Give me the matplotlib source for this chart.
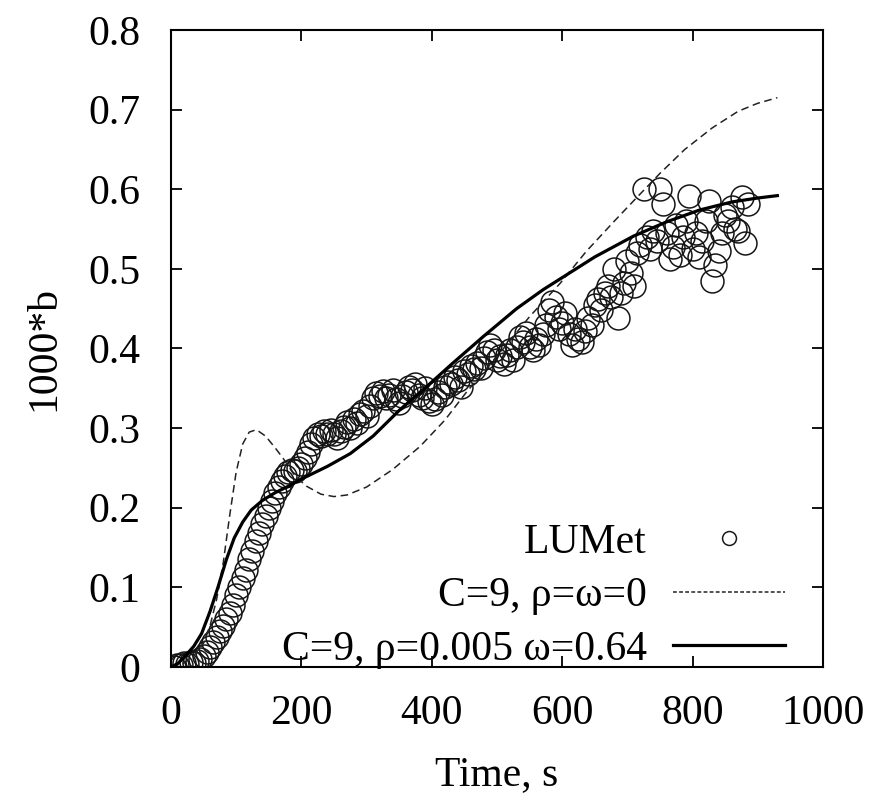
import matplotlib
matplotlib.use("Agg")
import matplotlib.pyplot as plt
from matplotlib.lines import Line2D

plt.rcParams["font.family"] = ["Liberation Serif", "DejaVu Serif"]

# measured data (LUMet)
t_meas = [
    5, 10, 15, 20, 25, 30, 35, 40, 45, 50, 55, 60, 65, 70, 75, 80, 85, 90, 95, 100,
    105, 110, 115, 120, 125, 130, 135, 140, 145, 150, 155, 160, 165, 170, 175, 180,
    185, 190, 195, 200, 205, 210, 215, 220, 225, 230, 235, 240, 245, 250, 255, 260,
    265, 270, 275, 280, 285, 290, 295, 300, 305, 310, 315, 320, 325, 330, 335, 340,
    345, 350, 355, 360, 365, 370, 375, 380, 385, 390, 395, 400, 405, 410, 415, 420,
    425, 430, 435, 440, 445, 450, 455, 460, 465, 470, 475, 480, 485, 490, 495, 500,
    505, 510, 515, 520, 525, 530, 535, 540, 545, 550, 555, 560, 565, 570, 575, 580,
    585, 590, 595, 600, 605, 610, 615, 620, 625, 630, 635, 640, 645, 650, 655, 660,
    665, 670, 675, 680, 685, 690, 695, 700, 705, 710, 715, 720, 725, 730, 735, 740,
    745, 750, 755, 760, 765, 770, 775, 780, 785, 790, 795, 800, 805, 810, 815, 820,
    825, 830, 835, 840, 845, 850, 855, 860, 865, 870, 875, 880, 885,
]
b_meas = [
    0.000, 0.003, 0.002, 0.005, 0.004, 0.006, 0.005, 0.008, 0.010, 0.014, 0.019, 0.025,
    0.031, 0.038, 0.045, 0.052, 0.060, 0.068, 0.078, 0.090, 0.100, 0.112, 0.122, 0.135,
    0.146, 0.158, 0.168, 0.180, 0.190, 0.200, 0.208, 0.218, 0.226, 0.233, 0.240, 0.245,
    0.248, 0.246, 0.250, 0.255, 0.262, 0.270, 0.280, 0.288, 0.292, 0.290, 0.296, 0.293,
    0.298, 0.292, 0.288, 0.296, 0.302, 0.308, 0.300, 0.312, 0.306, 0.318, 0.322, 0.315,
    0.328, 0.338, 0.344, 0.340, 0.346, 0.338, 0.342, 0.348, 0.336, 0.332, 0.340, 0.345,
    0.352, 0.348, 0.355, 0.342, 0.338, 0.350, 0.334, 0.330, 0.336, 0.345, 0.342, 0.352,
    0.358, 0.355, 0.364, 0.360, 0.352, 0.372, 0.368, 0.378, 0.374, 0.382, 0.376, 0.388,
    0.395, 0.405, 0.398, 0.385, 0.390, 0.380, 0.392, 0.398, 0.385, 0.402, 0.415, 0.408,
    0.420, 0.402, 0.398, 0.412, 0.405, 0.418, 0.430, 0.448, 0.458, 0.440, 0.425, 0.432,
    0.445, 0.418, 0.405, 0.425, 0.412, 0.408, 0.422, 0.438, 0.430, 0.455, 0.462, 0.448,
    0.470, 0.478, 0.465, 0.500, 0.438, 0.470, 0.482, 0.510, 0.495, 0.478, 0.520, 0.530,
    0.600, 0.540, 0.525, 0.548, 0.535, 0.600, 0.582, 0.545, 0.512, 0.528, 0.555, 0.518,
    0.540, 0.560, 0.592, 0.525, 0.545, 0.515, 0.535, 0.560, 0.585, 0.485, 0.505, 0.522,
    0.545, 0.568, 0.560, 0.578, 0.550, 0.548, 0.590, 0.532, 0.582,
]

# model C=9, rho=omega=0 (dashed)
t_model0 = [0, 20, 35, 50, 60, 70, 80, 90, 100, 110, 120, 131, 145, 160, 172, 190, 208,
            230, 250, 270, 300, 340, 382, 420, 453, 500, 550, 597, 637, 680, 709, 750,
            788, 830, 870, 900, 930]
b_model0 = [0.0, 0.005, 0.014, 0.03, 0.052, 0.085, 0.13, 0.19, 0.245, 0.28, 0.295,
            0.298, 0.29, 0.275, 0.262, 0.24, 0.227, 0.217, 0.214, 0.216, 0.226, 0.248,
            0.277, 0.31, 0.345, 0.39, 0.44, 0.482, 0.522, 0.56, 0.585, 0.62, 0.65,
            0.677, 0.698, 0.708, 0.715]

# model C=9, rho=0.005, omega=0.64 (solid)
t_model1 = [0, 10, 20, 35, 47, 60, 72, 85, 97, 110, 123, 140, 160, 180, 200, 240, 275,
            310, 351, 392, 430, 479, 530, 571, 600, 650, 709, 760, 811, 860, 900, 930]
b_model1 = [0.0, 0.004, 0.012, 0.026, 0.042, 0.07, 0.1, 0.135, 0.162, 0.182, 0.197,
            0.209, 0.219, 0.227, 0.236, 0.252, 0.268, 0.29, 0.323, 0.352, 0.38, 0.415,
            0.45, 0.474, 0.489, 0.515, 0.541, 0.559, 0.574, 0.584, 0.589, 0.592]

x_ticks = [0, 200, 400, 600, 800, 1000]
y_ticks = [0, 0.1, 0.2, 0.3, 0.4, 0.5, 0.6, 0.7, 0.8]
y_tick_labels = ["0", "0.1", "0.2", "0.3", "0.4", "0.5", "0.6", "0.7", "0.8"]

FS = 30

fig = plt.figure(figsize=(8.71, 7.96), dpi=100)
ax = fig.add_axes([0.1963, 0.1621, 0.7486, 0.8002])

ax.plot(t_meas, b_meas, linestyle="none", marker="o", markersize=16.5,
        markerfacecolor="none", markeredgecolor="#151515", markeredgewidth=1.1)
ax.plot(t_model0, b_model0, color="#222222", linewidth=1.1, linestyle=(0, (5, 3)))
ax.plot(t_model1, b_model1, color="black", linewidth=2.3)

ax.set_xlim(0, 1000)
ax.set_ylim(0, 0.8)
ax.set_xticks(x_ticks)
ax.set_xticklabels([str(v) for v in x_ticks])
ax.set_yticks(y_ticks)
ax.set_yticklabels(y_tick_labels)
ax.tick_params(direction="in", length=8, width=1.3, top=True, right=True,
               labelsize=FS)
ax.tick_params(axis="x", pad=20)
ax.tick_params(axis="y", pad=22)
for s in ax.spines.values():
    s.set_linewidth(1.5)

ax.set_xlabel("Time, s", fontsize=FS, labelpad=16)
ax.set_ylabel("1000*b", fontsize=FS, labelpad=18)

handles = [
    Line2D([], [], linestyle="none", marker="o", markersize=10,
           markerfacecolor="none", markeredgecolor="#1a1a1a", markeredgewidth=1.1),
    Line2D([], [], color="#222222", linewidth=1.1, linestyle=(0, (2.5, 1.5))),
    Line2D([], [], color="black", linewidth=2.3),
]
labels = ["LUMet", "C=9, ρ=ω=0", "C=9, ρ=0.005 ω=0.64"]
ax.legend(handles, labels, loc="lower right", markerfirst=False, frameon=False,
          fontsize=FS, handlelength=2.7, handletextpad=0.62, labelspacing=0.36,
          borderaxespad=0.0, borderpad=0.0, bbox_to_anchor=(0.942, -0.003))

fig.savefig("out.png", dpi=100)
